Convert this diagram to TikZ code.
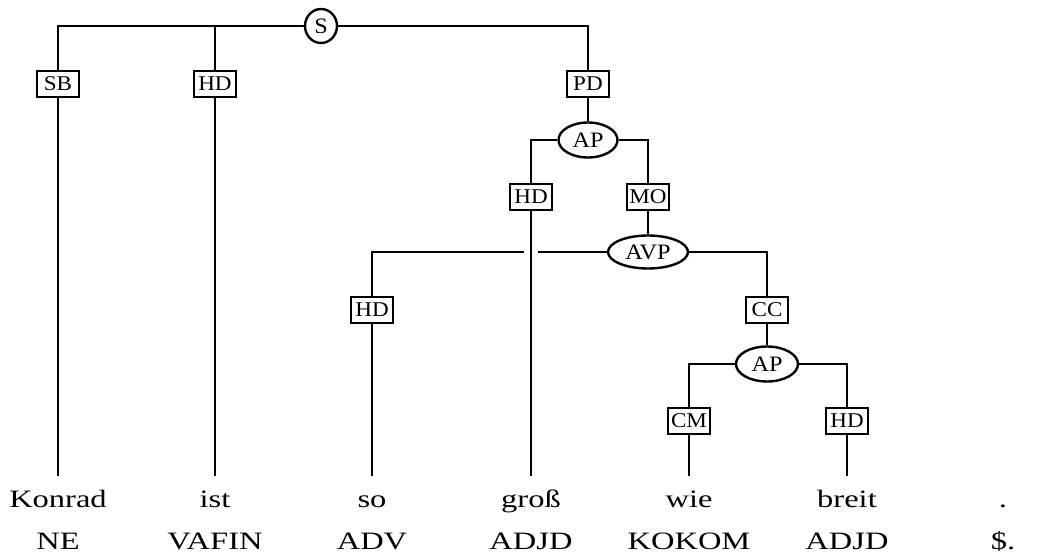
\documentclass[tikz,border=0pt]{standalone}
\usepackage{fontspec}
\setmainfont{Liberation Serif}[FakeStretch=1.1]
\newfontfamily\wordfont{Liberation Serif}[FakeStretch=1.3]
\usetikzlibrary{shapes.geometric}

\begin{document}
\begin{tikzpicture}[x=1pt, y=-1pt, inner sep=0pt,
		catstyle/.style={draw, ellipse, line width=2.4pt, fill=white, minimum height=35pt, font=\fontsize{22}{24}\selectfont},
		labelstyle/.style={draw, rectangle, line width=2.4pt, fill=white, minimum width=42pt, minimum height=26pt, font=\fontsize{21}{23}\selectfont},
		wordstyle/.style={anchor=base, text height=17pt, font=\wordfont\fontsize{25}{30}\selectfont},
		edgestyle/.style={line width=2.4pt}]

		\useasboundingbox (0,0) rectangle (1039,553);

		% inner nodes
		\node [catstyle, minimum width=32pt, minimum height=34pt] (s) at (321,26) {S};
		\node [labelstyle] (sb) at (58,84) {SB};
		\node [labelstyle] (hdist) at (215,84) {HD};
		\node [labelstyle] (pd) at (588,84) {PD};
		\node [catstyle, minimum width=59pt] (ap) at (588,140) {AP};
		\node [labelstyle] (hdgross) at (531,197) {HD};
		\node [labelstyle] (mo) at (648,197) {MO};
		\node [catstyle, minimum width=80pt, minimum height=33pt] (avp) at (648,252) {AVP};
		\node [labelstyle] (hdso) at (372,310) {HD};
		\node [labelstyle] (cc) at (767,310) {CC};
		\node [catstyle, minimum width=62pt] (apcmp) at (767,364) {AP};
		\node [labelstyle] (cm) at (689,421) {CM};
		\node [labelstyle] (hdbreit) at (847,421) {HD};

		% words and tags
		\foreach \x/\word/\tag/\name in {58/Konrad/NE/konrad, 215/ist/VAFIN/ist, 372/so/ADV/so,
			531/groß/ADJD/gross, 689/wie/KOKOM/wie, 847/breit/ADJD/breit, 1003/./\$./punct}
		{
			\node [wordstyle] (\name) at (\x,507) {\word};
			\node [wordstyle] (t\name) at (\x,549) {\tag};
		}

		% branches
		\draw[edgestyle] (s.west) -| (sb.north);
		\draw[edgestyle] (s.west) -| (hdist.north);
		\draw[edgestyle] (s.east) -| (pd.north);
		\draw[edgestyle] (pd) -- (ap);
		\draw[edgestyle] (ap.west) -| (hdgross.north);
		\draw[edgestyle] (ap.east) -| (mo.north);
		\draw[edgestyle] (mo) -- (avp);
		\coordinate (gapl) at (524,252);
		\coordinate (gapr) at (538,252);
		\draw[edgestyle] (avp.west) -- (gapr);
		\draw[edgestyle] (gapl) -| (hdso.north);
		\draw[edgestyle] (avp.east) -| (cc.north);
		\draw[edgestyle] (cc) -- (apcmp);
		\draw[edgestyle] (apcmp.west) -| (cm.north);
		\draw[edgestyle] (apcmp.east) -| (hdbreit.north);

		\foreach \from/\to in {sb/konrad, hdist/ist, hdso/so, hdgross/gross, cm/wie, hdbreit/breit}
		{
			\draw[edgestyle, shorten >=14pt] (\from.south) -- (\to.north);
		}

		\end{tikzpicture}
\end{document}
